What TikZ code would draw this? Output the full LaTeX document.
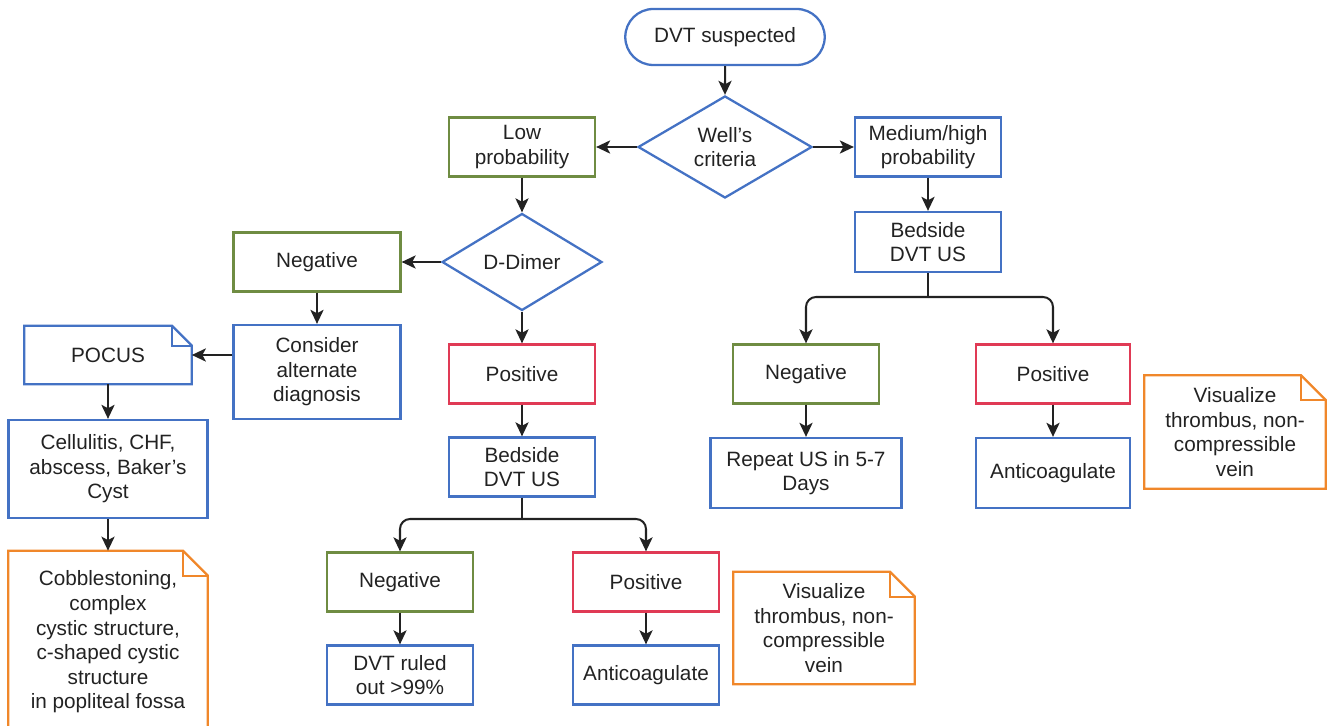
\documentclass[tikz,border=0pt]{standalone}
\usepackage{fontspec}
\setmainfont{Liberation Sans}
\usepackage{tikz}
\usetikzlibrary{arrows.meta,calc,positioning,shapes.misc,shapes.geometric}

\definecolor{boxblue}{HTML}{4472C4}
\definecolor{boxgreen}{HTML}{6F8C42}
\definecolor{boxred}{HTML}{E03A55}
\definecolor{noteorange}{HTML}{F0872A}
\definecolor{ink}{HTML}{222222}

\newcommand{\dogear}[3]{%
  \draw[#2,line width=1.3pt] (#1.north west) -- ([xshift=-#3]#1.north east) -- ([yshift=-#3]#1.north east) -- (#1.south east) -- (#1.south west) -- cycle;
  \draw[#2,line width=1.3pt] ([xshift=-#3]#1.north east) |- ([yshift=-#3]#1.north east);}

\begin{document}
\begin{tikzpicture}[x=0.02cm,y=-0.02cm,>={Stealth[length=8pt,width=7.5pt,inset=2pt]},
  every node/.style={font=\fontsize{11.8}{14}\selectfont,text=ink,align=center,inner sep=1pt},
  box/.style={draw,line width=1.3pt,minimum width=2.92cm,minimum height=1.18cm},
  bluebox/.style={box,draw=boxblue},
  greenbox/.style={box,draw=boxgreen},
  redbox/.style={box,draw=boxred},
  decision/.style={diamond,draw=boxblue,line width=1.3pt,inner sep=0pt},
  link/.style={->,draw=ink,line width=1.15pt},
  fork/.style={link,rounded corners=0.2cm}]
  \clip (0,0) rectangle (1330,726);

  \node[rounded rectangle,draw=boxblue,line width=1.3pt,minimum width=4.06cm,minimum height=1.12cm] (start) at (725,37) {DVT suspected};
  \node[decision,minimum width=3.48cm,minimum height=1.96cm] (wells) at (725,147) {Well's\\criteria};
  \node[greenbox] (low) at (522,147) {Low\\probability};
  \node[bluebox] (med) at (928,147) {Medium/high\\probability};
  \node[decision,minimum width=3.2cm,minimum height=1.94cm] (dimer) at (522,262) {D-Dimer};
  \node[greenbox,minimum width=3.34cm] (negL) at (317,262) {Negative};
  \node[bluebox,minimum height=1.2cm] (usR) at (928,242) {Bedside\\DVT US};
  \node[bluebox,minimum width=3.34cm,minimum height=1.88cm] (alt) at (317,372) {Consider\\alternate\\diagnosis};
  \node[redbox] (posM) at (522,374) {Positive};
  \node[minimum width=3.34cm,minimum height=1.16cm] (pocus) at (108,355) {POCUS};
  \node[bluebox,minimum width=3.98cm,minimum height=1.96cm] (cell) at (108,469) {Cellulitis, CHF,\\abscess, Baker's\\Cyst};
  \node[bluebox] (usM) at (522,467) {Bedside\\DVT US};
  \node[minimum width=3.98cm,minimum height=3.64cm] (cobble) at (108,642) {Cobblestoning,\\complex\\cystic structure,\\c-shaped cystic\\structure\\in popliteal fossa};
  \node[greenbox] (negB) at (400,582) {Negative};
  \node[redbox] (posB) at (646,582) {Positive};
  \node[bluebox] (ruled) at (400,675) {DVT ruled\\out >99\%};
  \node[bluebox] (antiB) at (646,675) {Anticoagulate};
  \node[minimum width=3.62cm,minimum height=2.24cm] (visB) at (824,628) {Visualize\\thrombus, non-\\compressible\\vein};
  \node[greenbox] (negR) at (806,374) {Negative};
  \node[redbox,minimum width=3.08cm] (posR) at (1053,374) {Positive};
  \node[bluebox,minimum width=3.82cm,minimum height=1.4cm] (repeat) at (806,473) {Repeat US in 5-7\\Days};
  \node[bluebox,minimum width=3.08cm,minimum height=1.4cm] (antiR) at (1053,473) {Anticoagulate};
  \node[minimum width=3.62cm,minimum height=2.26cm] (visR) at (1235,432) {Visualize\\thrombus, non-\\compressible\\vein};

  \dogear{pocus}{boxblue}{0.4cm}
  \dogear{cobble}{noteorange}{0.5cm}
  \dogear{visB}{noteorange}{0.5cm}
  \dogear{visR}{noteorange}{0.5cm}

  \coordinate (forkR) at (928,297);
  \coordinate (forkM) at (522,519);

  \draw[link] (start) -- (wells);
  \draw[link] (wells) -- (low);
  \draw[link] (wells) -- (med);
  \draw[link] (low) -- (dimer);
  \draw[link] (med) -- (usR);
  \draw[link] (dimer) -- (negL);
  \draw[link] (dimer) -- (posM);
  \draw[link] (negL) -- (alt);
  \draw[link] (alt.west |- pocus) -- (pocus.east);
  \draw[link] (pocus) -- (cell);
  \draw[link] (cell) -- (cobble);
  \draw[link] (posM) -- (usM);
  \draw[link,-] (usM) -- (forkM);
  \draw[fork] (forkM) -| (negB);
  \draw[fork] (forkM) -| (posB);
  \draw[link] (negB) -- (ruled);
  \draw[link] (posB) -- (antiB);
  \draw[link,-] (usR) -- (forkR);
  \draw[fork] (forkR) -| (negR);
  \draw[fork] (forkR) -| (posR);
  \draw[link] (negR) -- (repeat);
  \draw[link] (posR) -- (antiR);
\end{tikzpicture}
\end{document}
